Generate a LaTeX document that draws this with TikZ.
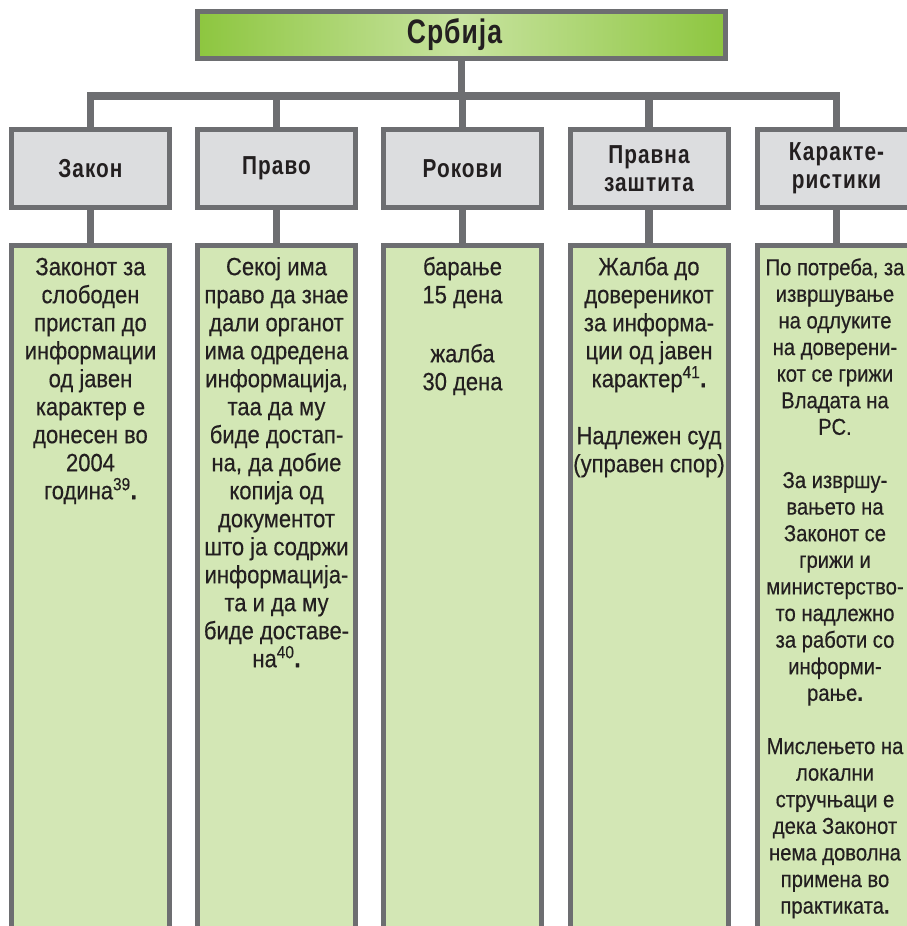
\documentclass[tikz,border=0pt]{standalone}
\usepackage{fontspec}
\setmainfont{Liberation Sans}[FakeStretch=0.88,FakeBold=0.4]
\newfontfamily\headfont{Liberation Sans}[FakeStretch=0.8,LetterSpace=4]
\newfontfamily\titlefont{Liberation Sans}[FakeStretch=0.78,LetterSpace=3]
\definecolor{edge}{HTML}{6D6E71}
\definecolor{headgray}{HTML}{DCDDDF}
\definecolor{bodygreen}{HTML}{D3E7B5}
\definecolor{topgreen}{HTML}{8DC63F}
\definecolor{toplight}{HTML}{C8E3A0}
\definecolor{ink}{HTML}{231F20}
\begin{document}
\begin{tikzpicture}[x=1pt,y=-1pt,
  titlebox/.style={draw=edge, line width=5pt, left color=topgreen, right color=topgreen,
    middle color=toplight, minimum width=528pt, minimum height=47pt, inner sep=0pt,
    text=ink, font=\titlefont\bfseries\fontsize{34}{36}\selectfont},
  headbox/.style={draw=edge, line width=5pt, fill=headgray, minimum width=158pt,
    minimum height=78pt, inner sep=0pt, align=center, text=ink,
    font=\headfont\bfseries\fontsize{26}{28}\selectfont},
  bodybox/.style={draw=edge, line width=5pt, fill=bodygreen, minimum width=158pt,
    minimum height=720pt, inner sep=0pt, anchor=north},
  bodytext/.style={anchor=north, inner sep=0pt, align=center, text=ink,
    font=\fontsize{25}{28}\selectfont},
  link/.style={draw=edge, line width=7.5pt}
]
\useasboundingbox (0,0) rectangle (907,926);
\clip (0,0) rectangle (907,926);

% title
\node[titlebox] (top) at (461.5,35) {Србија\hspace*{14pt}};

% column headers
\node[headbox] (h1) at (90.5,168.5) {Закон};
\node[headbox] (h2) at (276.5,168.5) {Право};
\node[headbox] (h3) at (462.5,168.5) {Рокови};
\node[headbox] (h4) at (649,168.5) {Правна\\заштита};
\node[headbox] (h5) at (836.5,168.5) {Каракте-\\ристики};

% column bodies
\node[bodybox] (c1) at (90.5,242.5) {};
\node[bodybox] (c2) at (276.5,242.5) {};
\node[bodybox] (c3) at (462.5,242.5) {};
\node[bodybox] (c4) at (649,242.5) {};
\node[bodybox] (c5) at (836.5,242.5) {};

% connectors
\coordinate (bus) at (461.5,96);
\draw[link] (top.south) -- (bus);
\draw[link] (h1.north) |- (bus) -| (h5.north);
\foreach \h in {h2,h3,h4} \draw[link] (\h.north) -- (\h.north |- bus);
\foreach \i in {1,...,5} \draw[link] (h\i.south) -- (c\i.north);

% body texts
\node[bodytext] (t1) at (90.5,255) {\rule{0pt}{20pt}Законот за\\слободен\\пристап до\\информации\\од јавен\\карактер е\\донесен во\\2004\\година\textsuperscript{39}\textbf{.}};
\node[bodytext] (t2) at (276.5,255) {\rule{0pt}{20pt}Секој има\\право да знае\\дали органот\\има одредена\\информација,\\таа да му\\биде достап-\\на, да добие\\копија од\\документот\\што ја содржи\\информација-\\та и да му\\биде доставе-\\на\textsuperscript{40}\textbf{.}};
\node[bodytext] (t3) at (462.5,255) {\rule{0pt}{20pt}барање\\15 дена\\[31pt]жалба\\30 дена};
\node[bodytext] (t4) at (649,255) {\rule{0pt}{20pt}Жалба до\\довереникот\\за информа-\\ции од јавен\\карактер\textsuperscript{41}\textbf{.}\\[29pt]Надлежен суд\\(управен спор)};
\node[bodytext, font=\fontsize{23}{26.6}\selectfont] (t5) at (835,255) {\rule{0pt}{20pt}По потреба, за\\извршување\\на одлуките\\на доверени-\\кот се грижи\\Владата на\\РС.\\[26.6pt]За извршу-\\вањето на\\Законот се\\грижи и\\министерство-\\то надлежно\\за работи со\\информи-\\рање\textbf{.}\\[26.6pt]Мислењето на\\локални\\стручњаци е\\дека Законот\\нема доволна\\примена во\\практиката\textbf{.}};
\end{tikzpicture}
\end{document}
